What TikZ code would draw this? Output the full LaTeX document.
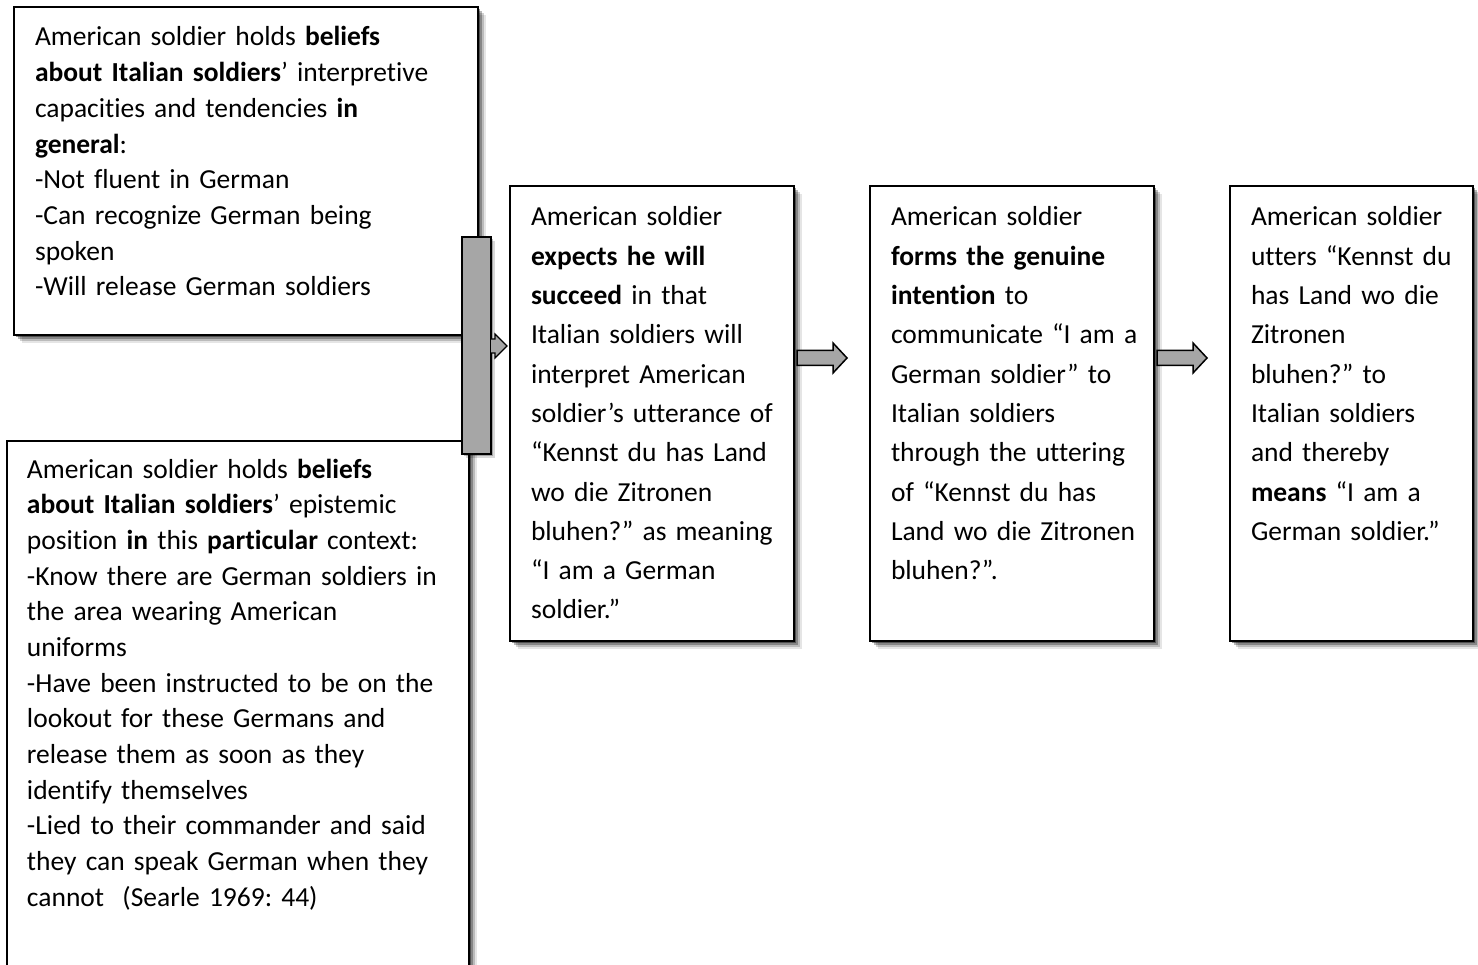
\documentclass[tikz,border=0pt]{standalone}
\usepackage{fontspec}
\setmainfont[Ligatures={NoCommon,NoRequired,NoContextual}]{Carlito}
\usetikzlibrary{calc,shadows}
\definecolor{fillgray}{HTML}{A6A6A6}
\frenchspacing
\begin{document}
\begin{tikzpicture}[x=1pt,y=-1pt,
  box/.style={draw=black,line width=2pt,fill=white,inner sep=0pt,outer sep=0pt,anchor=north west,
    general shadow={fill=black,opacity=.10,shadow xshift=8pt,shadow yshift=-8pt},
    general shadow={fill=black,opacity=.18,shadow xshift=6pt,shadow yshift=-6pt},
    general shadow={fill=black,opacity=.28,shadow xshift=4pt,shadow yshift=-4pt},
    general shadow={fill=black,opacity=.4,shadow xshift=2pt,shadow yshift=-2pt}},
  bar/.style={draw=black,line width=1.5pt,fill=fillgray,inner sep=0pt,outer sep=0pt,
    general shadow={fill=black,opacity=.15,shadow xshift=4pt,shadow yshift=-4pt},
    general shadow={fill=black,opacity=.25,shadow xshift=2pt,shadow yshift=-2pt}},
  blockarrow/.style={draw=black,line width=1.5pt,fill=fillgray,line join=miter},
  txtl/.style={anchor=base west,inner sep=0pt,outer sep=0pt,text width=450pt,align=left,
    font=\fontsize{27.5}{35.7}\selectfont\frenchspacing},
  txtr/.style={anchor=base west,inner sep=0pt,outer sep=0pt,text width=270pt,align=left,
    font=\fontsize{27.5}{39.3}\selectfont\frenchspacing}
]
\useasboundingbox (0,0) rectangle (1478,965);
\clip (0,0) rectangle (1478,965);
\fill[white] (0,0) rectangle (1478,965);

% left boxes
\node[box,minimum width=464pt,minimum height=328pt] (A) at (14,7) {};
\node[box,minimum width=462pt,minimum height=560pt] (B) at (7,441) {};

\node[txtl] (tA) at (35,46) {American soldier holds \textbf{beliefs}\\
\textbf{about Italian soldiers}’ interpretive\\
capacities and tendencies \textbf{in}\\
\textbf{general}:\\
-Not fluent in German\\
-Can recognize German being\\
spoken\\
-Will release German soldiers};

\node[txtl] (tB) at (27,478) {American soldier holds \textbf{beliefs}\\
\textbf{about Italian soldiers}’ epistemic\\
position \textbf{in} this \textbf{particular} context:\\
-Know there are German soldiers in\\
the area wearing American\\
uniforms\\
-Have been instructed to be on the\\
lookout for these Germans and\\
release them as soon as they\\
identify themselves\\
-Lied to their commander and said\\
they can speak German when they\\
cannot\ \ (Searle 1969: 44)};

% right boxes
\node[box,minimum width=284pt,minimum height=455pt] (C) at (510,186) {};
\node[box,minimum width=284pt,minimum height=455pt] (D) at (870,186) {};
\node[box,minimum width=243pt,minimum height=455pt] (E) at (1230,186) {};

\node[txtr] (tC) at (531,226) {American soldier\\
\textbf{expects he will}\\
\textbf{succeed} in that\\
Italian soldiers will\\
interpret American\\
soldier’s utterance of\\
“Kennst du has Land\\
wo die Zitronen\\
bluhen?” as meaning\\
“I am a German\\
soldier.”};

\node[txtr] (tD) at (891,226) {American soldier\\
\textbf{forms the genuine}\\
\textbf{intention} to\\
communicate “I am a\\
German soldier” to\\
Italian soldiers\\
through the uttering\\
of “Kennst du has\\
Land wo die Zitronen\\
bluhen?”.};

\node[txtr] (tE) at (1251,226) {American soldier\\
utters “Kennst du\\
has Land wo die\\
Zitronen\\
bluhen?” to\\
Italian soldiers\\
and thereby\\
\textbf{means} “I am a\\
German soldier.”};

% joining bar
\node[bar,minimum width=29pt,minimum height=217pt,anchor=north west] (br) at (462,237) {};
\coordinate (b0) at ($(br.north east)+(0,102)$);
\draw[blockarrow,line width=1.2pt] (b0) -- ++(4,0) -- ++(0,-5) -- ++(12,12) -- ++(-12,12) -- ++(0,-5) -- ++(-4,0);

% block arrows
\coordinate (s1) at ($(C.north east)+(3,172)$);
\draw[blockarrow] (s1) -- ++(0,-7.5) -- ++(36,0) -- ++(0,-7.5) -- ++(14,15) -- ++(-14,15) -- ++(0,-7.5) -- ++(-36,0) -- cycle;
\coordinate (s2) at ($(D.north east)+(3,172)$);
\draw[blockarrow] (s2) -- ++(0,-7.5) -- ++(36,0) -- ++(0,-7.5) -- ++(14,15) -- ++(-14,15) -- ++(0,-7.5) -- ++(-36,0) -- cycle;
\end{tikzpicture}
\end{document}
